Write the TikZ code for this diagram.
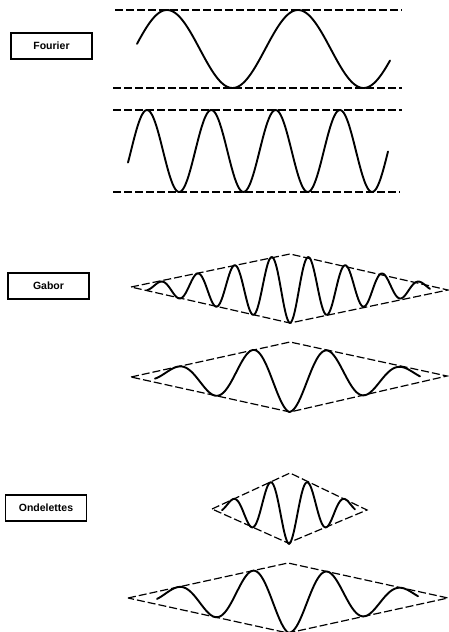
\documentclass[tikz,border=0pt]{standalone}
\usepackage{fontspec}
\setmainfont{Liberation Sans}
\begin{document}
\begin{tikzpicture}[x=1pt,y=-1pt,
  wave/.style={line width=1.9pt, line join=round, line cap=round},
  guide/.style={line width=1.2pt, dash pattern=on 8pt off 3pt},
  lbl/.style={draw, line width=1.2pt, minimum width=81pt, minimum height=26pt, inner sep=0pt,
              font=\bfseries\fontsize{10.5}{12}\selectfont}]
\useasboundingbox (0,0) rectangle (449,632);

% labels
\node[lbl] (fourier) at (51.5,46) {Fourier};
\node[lbl] (gabor) at (48.5,286) {Gabor};
\node[lbl] (ondelettes) at (46,508) {Ondelettes};

% ---------------- Fourier
\draw[guide] (115,10) -- (402,10);
\draw[guide] (113,88) -- (402,88);
\draw[wave] plot[domain=137:390, samples=160, smooth, variable=\x]
  (\x, {49 - 39*cos((\x-167)/131*360)});

\draw[guide] (113,110) -- (402,110);
\draw[guide] (113,192) -- (400,192);
\draw[wave] plot[domain=128:388, samples=200, smooth, variable=\x]
  (\x, {151 - 41*cos((\x-147)/64.3*360)});

% ---------------- Gabor
\coordinate (g1l) at (131,287);
\coordinate (g1t) at (290,254);
\coordinate (g1r) at (448,290);
\coordinate (g1b) at (290,323);
\draw[guide] (g1l) -- (g1t) -- (g1r) -- (g1b) -- cycle;
\draw[wave] plot[domain=147:430, samples=300, smooth, variable=\x]
  (\x, {288 + 35*(1-abs(\x-290)/158)*cos((\x-290)/37*360)});

\coordinate (g2l) at (131,377);
\coordinate (g2t) at (290,342);
\coordinate (g2r) at (447,376);
\coordinate (g2b) at (290,412);
\draw[guide] (g2l) -- (g2t) -- (g2r) -- (g2b) -- cycle;
\draw[wave] plot[domain=155:420, samples=250, smooth, variable=\x]
  (\x, {377 + 35*(1-abs(\x-289)/158)*cos((\x-290)/75*360)});

% ---------------- Ondelettes
\coordinate (o1l) at (212,509);
\coordinate (o1t) at (290,473);
\coordinate (o1r) at (367,510);
\coordinate (o1b) at (288,543);
\draw[guide] (o1l) -- (o1t) -- (o1r) -- (o1b) -- cycle;
\draw[wave] plot[domain=222:355, samples=200, smooth, variable=\x]
  (\x, {509 + 35*(1-abs(\x-289)/78)*cos((\x-289)/37.5*360)});

\coordinate (o2l) at (128,598);
\coordinate (o2t) at (288,563);
\coordinate (o2r) at (448,598);
\coordinate (o2b) at (288,633);
\draw[guide] (o2l) -- (o2t) -- (o2r) -- (o2b) -- cycle;
\draw[wave] plot[domain=157:418, samples=250, smooth, variable=\x]
  (\x, {598 + 35*(1-abs(\x-288)/160)*cos((\x-290)/75*360)});
\end{tikzpicture}
\end{document}
